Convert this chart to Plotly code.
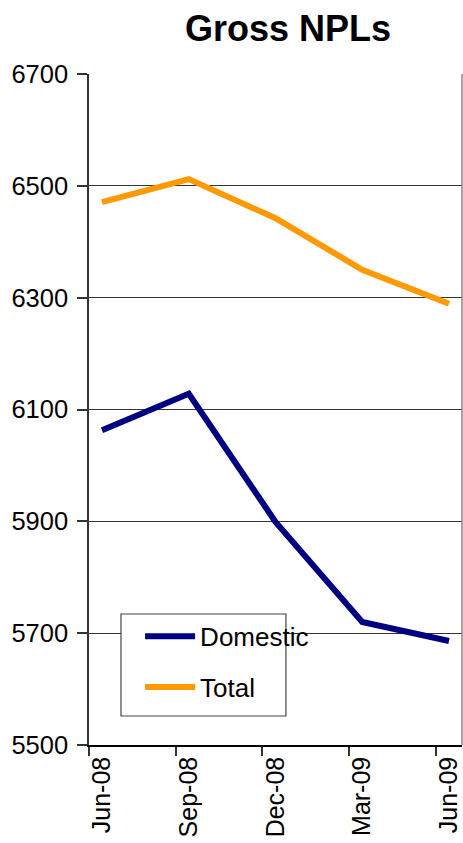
import plotly.graph_objects as go

quarters = ["Jun-08", "Sep-08", "Dec-08", "Mar-09", "Jun-09"]
domestic = [6063, 6128, 5899, 5720, 5686]
total = [6471, 6512, 6442, 6350, 6289]
y_ticks = [5500, 5700, 5900, 6100, 6300, 6500, 6700]

xpos = list(range(len(quarters)))
FONT = "Liberation Sans, Arial, sans-serif"

fig = go.Figure()
fig.add_trace(go.Scatter(x=xpos, y=domestic, name="Domestic", mode="lines",
                         legendgroup="d",
                         line=dict(color="#000080", width=6)))
fig.add_trace(go.Scatter(x=xpos, y=total, name="Total", mode="lines",
                         legendgroup="t",
                         line=dict(color="#FF9900", width=6)))

fig.update_layout(
    width=463, height=843,
    margin=dict(l=89, r=1, t=74, b=98),
    paper_bgcolor="white", plot_bgcolor="white",
    font=dict(family=FONT, color="black", size=24),
    title=dict(text="<b>Gross NPLs</b>", x=0.622, xanchor="center",
               y=0.966, yanchor="middle", font=dict(size=36, family=FONT)),
    showlegend=True,
    legend=dict(x=0.137, y=0.197, xanchor="left", yanchor="top",
                bgcolor="rgba(0,0,0,0)", borderwidth=0,
                font=dict(size=26, family=FONT), tracegroupgap=14,
                traceorder="grouped", itemwidth=50),
)

fig.update_xaxes(
    range=[-0.15, 4.15], tickmode="array", tickvals=xpos, ticktext=quarters,
    tickangle=-90, ticks="", showgrid=False, zeroline=False,
    showline=True, linecolor="black", linewidth=1.5, mirror=False,
    tickfont=dict(size=25, family=FONT),
    minor=dict(tickmode="array", tickvals=[v - 0.15 for v in xpos],
               ticks="outside", ticklen=9, tickcolor="#333333", tickwidth=1.5,
               showgrid=False),
)
fig.update_yaxes(
    range=[5500, 6700], tickmode="array", tickvals=y_ticks,
    ticks="outside", ticklen=10, tickcolor="#333333", tickwidth=1.5,
    showgrid=True, gridcolor="#333333", gridwidth=1,
    zeroline=False, showline=True, linecolor="#333333", linewidth=1.5,
    tickfont=dict(size=25.5, family=FONT), ticklabelstandoff=4,
)

# right-hand frame edge
fig.add_shape(type="line", xref="paper", yref="paper", x0=1, x1=1, y0=0, y1=1,
              line=dict(color="#888888", width=1.5))
# opaque legend frame
fig.add_shape(type="rect", xref="paper", yref="paper",
              x0=0.0858, x1=0.528, y0=0.0432, y1=0.1952,
              fillcolor="white", line=dict(color="#444444", width=1.2),
              layer="above")

fig.write_html("out.html")
